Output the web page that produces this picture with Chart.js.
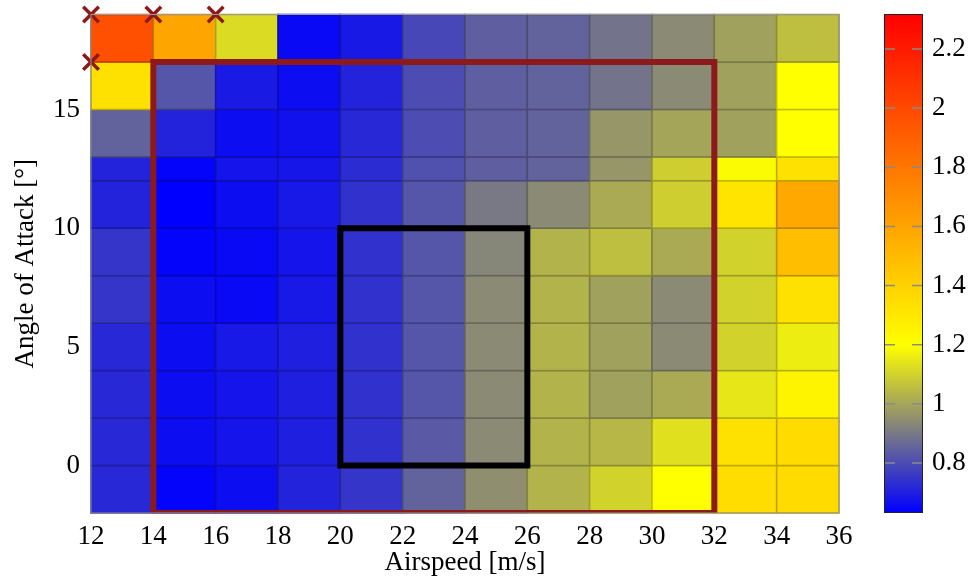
<!DOCTYPE html>
<html>
<head>
<meta charset="utf-8">
<script src="https://cdn.jsdelivr.net/npm/chart.js@4.4.1/dist/chart.umd.min.js"></script>
<style>
  html, body { margin: 0; padding: 0; background: #fff; }
  #wrap { position: relative; width: 969px; height: 584px; }
  #main { position: absolute; left: 0; top: 0; }
  #cbar { position: absolute; left: 884px; top: 0; }
</style>
</head>
<body>
<div id="wrap">
  <canvas id="main" width="969" height="584"></canvas>
  <canvas id="cbar" width="85" height="584"></canvas>
</div>
<script>
// cell edges
const airspeedEdges = [12, 14, 16, 18, 20, 22, 24, 26, 28, 30, 32, 34, 36];
const aoaEdges = [-2, 0, 2, 4, 6, 8, 10, 12, 13, 15, 17, 19];

// one array per angle-of-attack band, airspeed 12..36
const band_m2_0 = [0.72, 0.64, 0.66, 0.71, 0.75, 0.85, 0.95, 1.03, 1.10, 1.20, 1.35, 1.36];
const band_0_2 = [0.72, 0.66, 0.675, 0.70, 0.74, 0.83, 0.94, 1.03, 1.04, 1.13, 1.33, 1.36];
const band_2_4 = [0.72, 0.66, 0.675, 0.70, 0.74, 0.82, 0.94, 1.03, 0.99, 1.01, 1.145, 1.25];
const band_4_6 = [0.72, 0.66, 0.685, 0.70, 0.74, 0.82, 0.94, 1.03, 0.99, 0.94, 1.10, 1.16];
const band_6_8 = [0.75, 0.66, 0.65, 0.685, 0.74, 0.82, 0.94, 1.03, 0.99, 0.94, 1.10, 1.33];
const band_8_10 = [0.75, 0.64, 0.65, 0.675, 0.74, 0.82, 0.93, 1.03, 1.055, 1.01, 1.10, 1.48];
const band_10_12 = [0.71, 0.63, 0.66, 0.685, 0.74, 0.82, 0.90, 0.94, 1.01, 1.09, 1.32, 1.58];
const band_12_13 = [0.71, 0.64, 0.675, 0.68, 0.73, 0.81, 0.84, 0.85, 0.965, 1.09, 1.19, 1.33];
const band_13_15 = [0.85, 0.71, 0.66, 0.67, 0.72, 0.80, 0.84, 0.85, 0.965, 1.00, 0.99, 1.20];
const band_15_17 = [1.33, 0.82, 0.69, 0.66, 0.71, 0.80, 0.84, 0.85, 0.887, 0.94, 0.99, 1.20];
const band_17_19 = [1.97, 1.595, 1.12, 0.65, 0.686, 0.79, 0.84, 0.85, 0.887, 0.94, 0.99, 1.055];

const bands = [band_m2_0, band_0_2, band_2_4, band_4_6, band_6_8, band_8_10,
  band_10_12, band_12_13, band_13_15, band_15_17, band_17_19];

// overlays
const outerBoxX = [14, 32];
const outerBoxY = [-2, 17];
const innerBoxX = [20, 26];
const innerBoxY = [0, 10];
const crossX = [12, 14, 16, 12];
const crossY = [19, 19, 19, 17];

// ticks
const xTickValues = [12, 14, 16, 18, 20, 22, 24, 26, 28, 30, 32, 34, 36];
const yTickValues = [0, 5, 10, 15];
const cbTickValues = [0.8, 1, 1.2, 1.4, 1.6, 1.8, 2, 2.2];

// colormap
const cbMin = 0.631;
const cbMax = 2.318;
const cmapStops = [cbMin, 1.2, cbMax];
const cmapColors = [[0, 0, 255], [255, 255, 0], [255, 0, 0]];

const DARK_RED = "#8c1a1a";

Chart.defaults.font.family = "'Liberation Serif', 'Times New Roman', serif";
Chart.defaults.font.size = 27;
Chart.defaults.color = "#000";

function colormap(v) {
  const t = Math.min(Math.max(v, cmapStops[0]), cmapStops[cmapStops.length - 1]);
  for (let k = 0; k < cmapStops.length - 1; k++) {
    if (t <= cmapStops[k + 1]) {
      const f = (t - cmapStops[k]) / (cmapStops[k + 1] - cmapStops[k]);
      const a = cmapColors[k], b = cmapColors[k + 1];
      return a.map((c, i) => Math.round(c + (b[i] - c) * f));
    }
  }
  return cmapColors[cmapColors.length - 1];
}

function boxPath(xs, ys) {
  // closed box, first edge repeated so the start corner gets a proper join
  return [
    { x: xs[0], y: ys[0] }, { x: xs[1], y: ys[0] }, { x: xs[1], y: ys[1] },
    { x: xs[0], y: ys[1] }, { x: xs[0], y: ys[0] }, { x: xs[1], y: ys[0] },
  ];
}

function noPadY(scale, width) {
  scale.width = width;
  scale.paddingTop = 0;
  scale.paddingBottom = 0;
}

const heatmapPlugin = {
  id: "heatmap",
  beforeDatasetsDraw(chart) {
    const { ctx, scales: { x, y } } = chart;
    ctx.save();
    bands.forEach((row, j) => {
      const top = y.getPixelForValue(aoaEdges[j + 1]);
      const bottom = y.getPixelForValue(aoaEdges[j]);
      row.forEach((v, i) => {
        const left = x.getPixelForValue(airspeedEdges[i]);
        const right = x.getPixelForValue(airspeedEdges[i + 1]);
        const [r, g, b] = colormap(v);
        ctx.fillStyle = `rgb(${r},${g},${b})`;
        ctx.fillRect(left, top, right - left, bottom - top);
        ctx.strokeStyle = `rgb(${Math.round(r * 0.75)},${Math.round(g * 0.75)},${Math.round(b * 0.75)})`;
        ctx.lineWidth = 1.5;
        ctx.strokeRect(left, top, right - left, bottom - top);
      });
    });
    ctx.restore();
  },
  afterDatasetsDraw(chart) {
    const { ctx, chartArea: a } = chart;
    ctx.save();
    ctx.strokeStyle = "#9a9a9a";
    ctx.lineWidth = 1;
    ctx.strokeRect(a.left, a.top, a.right - a.left, a.bottom - a.top);
    ctx.restore();
  },
};

new Chart(document.getElementById("main"), {
  type: "scatter",
  data: {
    datasets: [
      {
        type: "line",
        data: boxPath(outerBoxX, outerBoxY),
        borderColor: DARK_RED,
        borderWidth: 6,
        borderJoinStyle: "miter",
        pointRadius: 0,
        fill: false,
        clip: 0,
      },
      {
        type: "line",
        data: boxPath(innerBoxX, innerBoxY),
        borderColor: "#000",
        borderWidth: 6,
        borderJoinStyle: "miter",
        pointRadius: 0,
        fill: false,
        clip: 0,
      },
      {
        data: crossX.map((v, i) => ({ x: v, y: crossY[i] })),
        pointStyle: "crossRot",
        pointRadius: 11,
        pointBorderWidth: 3.5,
        borderColor: DARK_RED,
        backgroundColor: DARK_RED,
        clip: false,
      },
    ],
  },
  options: {
    responsive: false,
    animation: false,
    layout: { padding: { left: 0, right: 130, top: 14, bottom: 0 } },
    plugins: { legend: { display: false }, tooltip: { enabled: false } },
    scales: {
      x: {
        type: "linear",
        min: 12,
        max: 36,
        grid: { display: false, drawTicks: false },
        border: { display: false },
        afterBuildTicks: (scale) => { scale.ticks = xTickValues.map((v) => ({ value: v })); },
        afterFit: (scale) => {
          scale.height = 71;
          scale.paddingLeft = 0;
          scale.paddingRight = 0;
        },
        ticks: { autoSkip: false, maxRotation: 0, padding: 8 },
        title: { display: true, text: "Airspeed [m/s]", padding: { top: 0, bottom: 5 } },
      },
      y: {
        type: "linear",
        min: -2,
        max: 19,
        grid: { display: false, drawTicks: false },
        border: { display: false },
        afterBuildTicks: (scale) => { scale.ticks = yTickValues.map((v) => ({ value: v })); },
        afterFit: (scale) => noPadY(scale, 91),
        ticks: { padding: 11 },
        title: { display: true, text: "Angle of Attack [°]", padding: { top: 10, bottom: 0 } },
      },
    },
  },
  plugins: [heatmapPlugin],
});

const colorbarPlugin = {
  id: "colorbar",
  beforeDatasetsDraw(chart) {
    const { ctx, chartArea: a, scales: { y } } = chart;
    ctx.save();
    const grad = ctx.createLinearGradient(0, a.bottom, 0, a.top);
    cmapStops.forEach((v, k) => {
      const [r, g, b] = cmapColors[k];
      grad.addColorStop((v - cbMin) / (cbMax - cbMin), `rgb(${r},${g},${b})`);
    });
    ctx.fillStyle = grad;
    ctx.fillRect(a.left, a.top, a.right - a.left, a.bottom - a.top);
    ctx.strokeStyle = "#8a8a8a";
    ctx.lineWidth = 1.5;
    cbTickValues.forEach((v) => {
      const py = y.getPixelForValue(v);
      ctx.beginPath();
      ctx.moveTo(a.left, py);
      ctx.lineTo(a.left + 11, py);
      ctx.moveTo(a.right - 11, py);
      ctx.lineTo(a.right, py);
      ctx.stroke();
    });
    ctx.strokeStyle = "#222";
    ctx.lineWidth = 1;
    ctx.strokeRect(a.left + 0.5, a.top + 0.5, a.right - a.left - 1, a.bottom - a.top - 1);
    ctx.restore();
  },
};

new Chart(document.getElementById("cbar"), {
  type: "scatter",
  data: { datasets: [{ data: [] }] },
  options: {
    responsive: false,
    animation: false,
    layout: { padding: { left: 0, right: 0, top: 14, bottom: 71 } },
    plugins: { legend: { display: false }, tooltip: { enabled: false } },
    scales: {
      x: { display: false, min: 0, max: 1 },
      y: {
        type: "linear",
        position: "right",
        min: cbMin,
        max: cbMax,
        grid: { display: false, drawTicks: false },
        border: { display: false },
        afterBuildTicks: (scale) => { scale.ticks = cbTickValues.map((v) => ({ value: v })); },
        afterFit: (scale) => noPadY(scale, 46),
        ticks: { padding: 9, callback: (v) => String(v) },
      },
    },
  },
  plugins: [colorbarPlugin],
});
</script>
</body>
</html>
